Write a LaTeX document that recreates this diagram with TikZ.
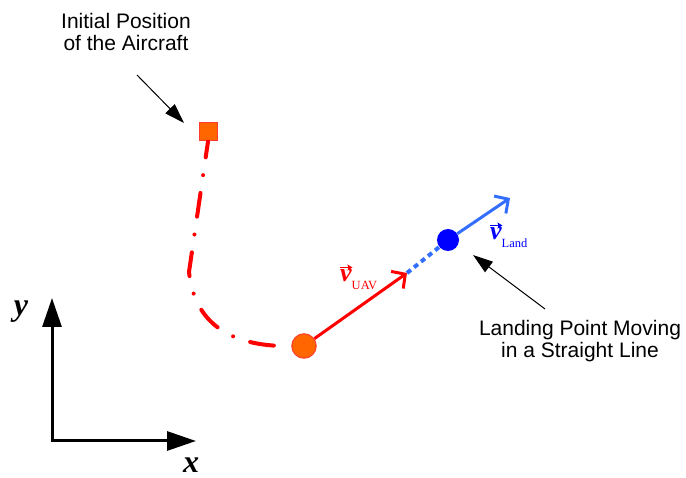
\documentclass[tikz,border=0pt]{standalone}
\usepackage{fontspec}
\setmainfont{Liberation Sans}
\newfontfamily\symfont{Liberation Serif}
\usetikzlibrary{positioning,arrows.meta}
\definecolor{pathred}{RGB}{255,0,0}
\definecolor{ptorange}{RGB}{255,102,0}
\definecolor{ptedge}{RGB}{255,60,50}
\definecolor{landblue}{RGB}{0,0,255}
\definecolor{moveblue}{RGB}{51,110,255}
% velocity symbol: bold v, arrow on top, small upright subscript
\newcommand{\vecarrow}{\tikz[baseline=0pt]\draw[line width=1.7pt, -{Stealth[length=5pt,width=6pt,inset=1pt]}] (0pt,0pt) -- (12pt,0pt);}
\newcommand{\velo}[1]{{\symfont\bfseries\ooalign{\hbox{\itshape\fontsize{26}{26}\selectfont v}\cr\hidewidth\kern1pt\raisebox{14.5pt}{\vecarrow}\hidewidth\cr}\raisebox{-7.5pt}{\mdseries\fontsize{12.5}{13}\selectfont #1}}}
\tikzset{
    txt/.style={font=\fontsize{21}{22}\selectfont, align=center, inner sep=0pt},
    axlbl/.style={font=\symfont\bfseries\itshape\fontsize{32}{32}\selectfont, inner sep=0pt},
    pointer/.style={-{Triangle[length=20pt,width=13pt]}, line width=1pt},
    axes/.style={{Triangle[length=29pt,width=19pt]}-{Triangle[length=29pt,width=19pt]}, line width=3pt},
    velarr/.style={-{Straight Barb[length=10pt,width=21pt,line width=3pt]}, line width=3pt},
    track/.style={pathred, line width=4pt, line cap=round, dash pattern=on 24pt off 18pt on 0pt off 18pt, dash phase=8pt},
    dot/.style={circle, inner sep=0pt}
    }
\begin{document}
\begin{tikzpicture}[x=1pt, y=-1pt]
    \useasboundingbox (0,0) rectangle (686,478);

    % anchor base sits on the last line here
    \node[txt, anchor=base] (inittxt) at (126,51) {Initial Position\\of the Aircraft};
    \node[txt, anchor=base] (landtxt) at (580,358) {Landing Point Moving\\in a Straight Line};

    \node[draw=ptedge, fill=ptorange, minimum size=18pt, inner sep=0pt, line width=1pt] (start) at (208,132) {};
    \node[dot, draw=ptedge, fill=ptorange, minimum size=24.5pt, line width=1pt] (uav) at (304,346) {};
    \node[dot, fill=landblue, minimum size=22pt] (land) at (448,240) {};

    \coordinate (bend) at (189,272);
    \coordinate (vtip) at (407,273);
    \coordinate (ltip) at (510,198);

    % flight path of the aircraft
    \draw[track] (start.south) -- (bend) .. controls (195,330) and (240,347) .. (uav.west);

    \draw[moveblue, line width=4pt, dash pattern=on 5pt off 4pt] (vtip) -- (land);
    \draw[velarr, pathred] (uav) -- (vtip);
    \draw[velarr, moveblue] (land) -- (ltip);

    \node[text=pathred, anchor=base west, inner sep=0pt] (vuav) at (340,282) {\velo{UAV}};
    \node[text=landblue, anchor=base west, inner sep=0pt] (vland) at (490,240) {\velo{Land}};

    \coordinate (inittail) at (137,75);
    \coordinate (inithead) at (184,123);
    \draw[pointer] (inittail) -- (inithead);
    \coordinate (landtail) at (545,309);
    \coordinate (landhead) at (473,255);
    \draw[pointer] (landtail) -- (landhead);

    % coordinate axes
    \coordinate (origin) at (52,441);
    \coordinate (ytip) at (52,298);
    \coordinate (xtip) at (196,441);
    \draw[axes] (ytip) -- (origin) -- (xtip);
    \node[axlbl] (ylbl) at (21,312) {y};
    \node[axlbl] (xlbl) at (191,465) {x};
\end{tikzpicture}
\end{document}
